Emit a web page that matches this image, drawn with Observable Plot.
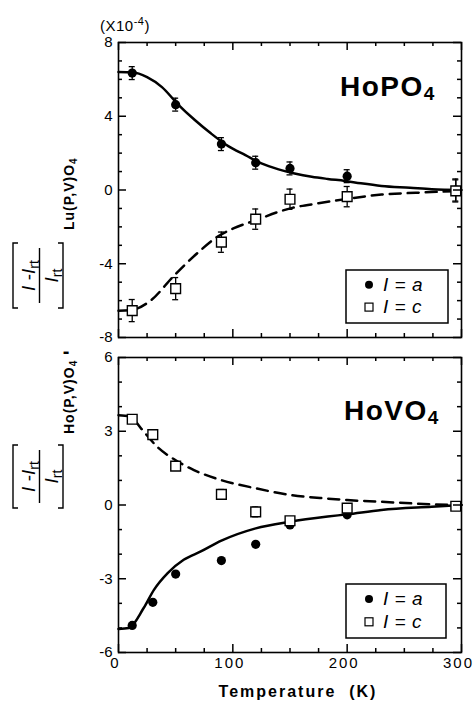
<!DOCTYPE html>
<html><head><meta charset="utf-8">
<script src="https://cdn.jsdelivr.net/npm/d3@7"></script>
<script src="https://cdn.jsdelivr.net/npm/@observablehq/plot@0.6"></script>
<style>
body{margin:0;background:#fff;font-family:"Liberation Sans",Arial,sans-serif;}
#wrap{position:relative;width:474px;height:706px;overflow:hidden;background:#fff;}
#wrap > svg{position:absolute;left:0;}
g[aria-label="x-axis tick label"] text{letter-spacing:2px;}
</style></head><body><div id="wrap"></div>
<script>
// ---------- data ----------
// x axis
const xDomain = [0, 300];
const xMajor = [0, 100, 200, 300];
const xMinor = [25, 50, 75, 125, 150, 175, 225, 250, 275];

// HoPO4 panel (top)
const poYDomain = [-8, 8];
const poYMajor = [-8, -4, 0, 4, 8];
const poYMinor = [-7, -6, -5, -3, -2, -1, 1, 2, 3, 5, 6, 7];
const poTemps = [12, 50, 90, 120, 150, 200, 295];
const poA = [6.34, 4.63, 2.49, 1.48, 1.17, 0.75, 0.0];
const poAErr = [0.35, 0.35, 0.35, 0.35, 0.35, 0.35, 0.6];
const poC = [-6.54, -5.35, -2.83, -1.58, -0.5, -0.36, -0.05];
const poCErr = [0.6, 0.6, 0.55, 0.55, 0.55, 0.55, 0.6];
const poFitATemps = [0, 12, 25, 38, 52, 67, 81, 96, 111, 125, 140, 154, 169, 183, 198, 212, 230, 255, 274, 300];
const poFitA = [6.4, 6.38, 6.12, 5.58, 4.65, 3.78, 3.06, 2.38, 1.89, 1.44, 1.12, 0.9, 0.72, 0.6, 0.49, 0.36, 0.22, 0.12, 0.04, 0];
const poFitCTemps = [0, 12, 28, 48, 69, 85, 101, 122, 139, 152, 175, 200, 230, 260, 300];
const poFitC = [-6.55, -6.5, -6.0, -4.68, -3.42, -2.6, -2.07, -1.6, -1.2, -0.97, -0.72, -0.48, -0.25, -0.15, -0.05];

// HoVO4 panel (bottom)
const voYDomain = [-6, 6];
const voYMajor = [-6, -3, 0, 3, 6];
const voYMinor = [-5, -4, -2, -1, 1, 2, 4, 5];
const voTemps = [12, 30, 50, 90, 120, 150, 200, 295];
const voA = [-4.9, -3.96, -2.81, -2.26, -1.6, -0.81, -0.4, -0.05];
const voC = [3.49, 2.86, 1.58, 0.43, -0.28, -0.64, -0.13, -0.05];
const voCErr = [0.15, 0.15, 0.15, 0.2, 0.2, 0.15, 0.15, 0.15];
const voFitATemps = [0, 9, 22, 31, 43, 57, 72, 90, 120, 150, 183, 200, 230, 274, 300];
const voFitA = [-5.04, -5.0, -4.19, -3.45, -2.77, -2.23, -1.89, -1.45, -0.95, -0.68, -0.47, -0.38, -0.2, -0.07, 0];
const voFitCTemps = [0, 10, 20, 34, 50, 66, 90, 120, 150, 183, 200, 230, 274, 300];
const voFitC = [3.65, 3.6, 3.1, 2.36, 1.82, 1.42, 1.01, 0.68, 0.41, 0.26, 0.2, 0.13, 0.03, 0];

const legendLabels = ["I = a", "I = c"];

// ---------- helpers ----------
const rows = (ts, vs, es) => ts.map((t, i) => ({t, v: vs[i], e: es ? es[i] : 0}));
const FONT = "'Liberation Sans', Arial, Helvetica, sans-serif";
const W = 474, ML = 118, MR = 13, FW = W - ML - MR;
const TICK = "black";

function errMarks(data, w) {
  return [
    Plot.ruleX(data, {x: "t", y1: d => d.v - d.e, y2: d => d.v + d.e, stroke: "black", strokeWidth: 1.3}),
    Plot.ruleY(data, {x1: "t", x2: "t", y: d => d.v + d.e, insetLeft: -w, insetRight: -w, stroke: "black", strokeWidth: 1.3}),
    Plot.ruleY(data, {x1: "t", x2: "t", y: d => d.v - d.e, insetLeft: -w, insetRight: -w, stroke: "black", strokeWidth: 1.3})
  ];
}

// inward tick marks on all four sides of the frame
function inwardTicks(yMajor, yMinor, FH) {
  const s = {stroke: TICK, strokeWidth: 1.5};
  return [
    Plot.ruleY(yMajor, {y: d => d, insetRight: FW - 8, ...s}),
    Plot.ruleY(yMinor, {y: d => d, insetRight: FW - 4, ...s}),
    Plot.ruleY(yMajor, {y: d => d, insetLeft: FW - 8, ...s}),
    Plot.ruleY(yMinor, {y: d => d, insetLeft: FW - 4, ...s}),
    Plot.ruleX(xMajor, {x: d => d, insetBottom: FH - 8, ...s}),
    Plot.ruleX(xMinor, {x: d => d, insetBottom: FH - 4, ...s}),
    Plot.ruleX(xMajor, {x: d => d, insetTop: FH - 8, ...s}),
    Plot.ruleX(xMinor, {x: d => d, insetTop: FH - 4, ...s})
  ];
}

function panel({height, marginTop, marginBottom, yDomain, yMajor, yMinor, aRows, aErr, cRows, fitA, fitC, xLabels}) {
  const FH = height - marginTop - marginBottom;
  const marks = [
    Plot.line(fitA, {x: "t", y: "v", curve: "monotone-x", stroke: "black", strokeWidth: 2.5}),
    Plot.line(fitC, {x: "t", y: "v", curve: "monotone-x", stroke: "black", strokeWidth: 2.5, strokeDasharray: "11,7"}),
  ];
  if (aErr) marks.push(...errMarks(aRows, 3));
  marks.push(...errMarks(cRows.filter(d => d.e > 0), 3));
  marks.push(
    Plot.dot(aRows, {x: "t", y: "v", r: 4.6, fill: "black", stroke: "none"}),
    Plot.dot(cRows, {x: "t", y: "v", symbol: "square", r: 5.5, fill: "white", stroke: "black", strokeWidth: 1.4}),
    Plot.frame({stroke: "black", strokeWidth: 1.6}),
    ...inwardTicks(yMajor, yMinor, FH),
    Plot.axisY(yMajor, {anchor: "left", tickSize: 0, tickPadding: 6, tickFormat: d => String(d), label: null, fontSize: 15})
  );
  if (xLabels) marks.push(Plot.axisX(xMajor, {anchor: "bottom", tickSize: 0, tickPadding: 5, dx: -3, tickFormat: d => String(d), label: null, fontSize: 15}));
  else marks.push(Plot.axisX([], {anchor: "bottom", label: null}));
  return Plot.plot({
    width: W, height, marginLeft: ML, marginRight: MR, marginTop, marginBottom,
    x: {domain: xDomain}, y: {domain: yDomain},
    style: {fontFamily: FONT, color: "black", background: "transparent", overflow: "visible"},
    marks
  });
}

const wrap = document.getElementById("wrap");
const top1 = panel({height: 350, marginTop: 42, marginBottom: 13, yDomain: poYDomain, yMajor: poYMajor, yMinor: poYMinor,
  aRows: rows(poTemps, poA, poAErr), aErr: true, cRows: rows(poTemps, poC, poCErr),
  fitA: rows(poFitATemps, poFitA), fitC: rows(poFitCTemps, poFitC), xLabels: false});
top1.style.top = "0px";
wrap.appendChild(top1);
const bot = panel({height: 356, marginTop: 7, marginBottom: 54, yDomain: voYDomain, yMajor: voYMajor, yMinor: voYMinor,
  aRows: rows(voTemps, voA), aErr: false, cRows: rows(voTemps, voC, voCErr),
  fitA: rows(voFitATemps, voFitA), fitC: rows(voFitCTemps, voFitC), xLabels: true});
bot.style.top = "350px";
wrap.appendChild(bot);

// ---------- overlay: titles, legends, axis titles ----------
const ov = d3.select(wrap).append("svg").attr("width", 474).attr("height", 706)
  .style("position", "absolute").style("left", 0).style("top", 0)
  .style("font-family", FONT);

// (X10-4)
const mult = ov.append("text").attr("x", 100).attr("y", 31).attr("font-size", 15).attr("letter-spacing", 0.5);
mult.append("tspan").text("(X10");
mult.append("tspan").attr("dy", -6).attr("font-size", 11).text("-4");
mult.append("tspan").attr("dy", 6).text(")");

// titles
function title(x, y, main, sub) {
  const t = ov.append("text").attr("x", x).attr("y", y).attr("font-size", 28).attr("font-weight", "bold").attr("letter-spacing", 1.5);
  t.append("tspan").text(main);
  t.append("tspan").attr("dy", 4).attr("font-size", 19).text(sub);
}
title(340, 96, "HoPO", "4");
title(344, 420, "HoVO", "4");

// legends
function legend(x, y, w, h) {
  ov.append("rect").attr("x", x).attr("y", y).attr("width", w).attr("height", h)
    .attr("fill", "white").attr("stroke", "black").attr("stroke-width", 1.5);
  const r1 = y + h * 0.28, r2 = y + h * 0.7;
  ov.append("circle").attr("cx", x + 23).attr("cy", r1).attr("r", 4).attr("fill", "black");
  ov.append("rect").attr("x", x + 19).attr("y", r2 - 4).attr("width", 8).attr("height", 8)
    .attr("fill", "white").attr("stroke", "black").attr("stroke-width", 1.2);
  [r1, r2].forEach((ry, i) => {
    ov.append("text").attr("x", x + 37).attr("y", ry + 6).attr("font-size", 19).attr("font-style", "italic")
      .attr("letter-spacing", 0.5).attr("xml:space", "preserve").text(legendLabels[i]);
  });
}
legend(346, 270, 102, 53);
legend(346, 584, 100, 54);

// x axis title
ov.append("text").attr("x", 298).attr("y", 697).attr("text-anchor", "middle").attr("font-size", 16)
  .attr("font-weight", "bold").attr("letter-spacing", 2).attr("xml:space", "preserve").text("Temperature  (K)");

// rotated y label: local (a,b) -> page (b, 706 - a)
const g = ov.append("g").attr("transform", "translate(0,706) rotate(-90)");
function bracketFrac(a0, a1) {
  const b0 = 13, b1 = 63, s = 5;
  g.append("path").attr("d", `M${a0},${b0 + s}V${b0}H${a1}V${b0 + s}`).attr("fill", "none").attr("stroke", "black").attr("stroke-width", 1.4);
  g.append("path").attr("d", `M${a0},${b1 - s}V${b1}H${a1}V${b1 - s}`).attr("fill", "none").attr("stroke", "black").attr("stroke-width", 1.4);
  const mid = (a0 + a1) / 2;
  g.append("line").attr("x1", a0 + 5).attr("x2", a1 - 5).attr("y1", 39.5).attr("y2", 39.5).attr("stroke", "black").attr("stroke-width", 1.4);
  const num = g.append("text").attr("x", mid).attr("y", 35).attr("text-anchor", "middle").attr("font-size", 19);
  num.append("tspan").attr("font-style", "italic").text("I");
  num.append("tspan").text(" -");
  num.append("tspan").attr("font-style", "italic").text("I");
  num.append("tspan").attr("dy", 4).attr("font-size", 14).text("rt");
  const den = g.append("text").attr("x", mid).attr("y", 58).attr("text-anchor", "middle").attr("font-size", 19);
  den.append("tspan").attr("font-style", "italic").text("I");
  den.append("tspan").attr("dy", 4).attr("font-size", 14).text("rt");
}
function subLabel(a, text) {
  const t = g.append("text").attr("x", a).attr("y", 74).attr("font-size", 14).attr("font-weight", "bold").attr("letter-spacing", 1);
  t.append("tspan").text(text);
  t.append("tspan").attr("dy", 3).attr("font-size", 10).text("4");
}
bracketFrac(706 - 308, 706 - 243);
subLabel(706 - 230, "Lu(P,V)O");
bracketFrac(706 - 508, 706 - 445);
subLabel(706 - 434, "Ho(P,V)O");
// the minus between the two bracketed terms (drawn upright, as in the original)
ov.append("text").attr("x", 66).attr("y", 358).attr("text-anchor", "middle").attr("font-size", 20).attr("font-weight", "bold").text("-");
</script></body></html>
